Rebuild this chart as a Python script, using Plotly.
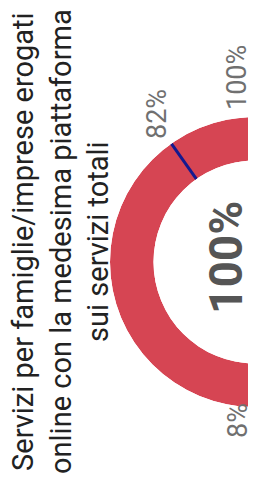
import plotly.graph_objects as go

# ---- data ----
title_lines = ["Servizi per famiglie/imprese erogati",
               "online con la medesima piattaforma",
               "sui servizi totali"]
gauge_min = 8
gauge_max = 100
value = 100
threshold = 82
tick_labels = ["8%", "82%", "100%"]
value_label = "100%"

W, H = 256, 484


def theta(v):
    # gauge scale: min at bottom, max at top, going through the left side
    return (v - gauge_min) / (gauge_max - gauge_min) * 180.0


def px(x, y):
    return x / W, 1 - y / H


fig = go.Figure()

# value arc
fig.add_trace(go.Barpolar(
    r=[1], base=[0],
    theta=[(theta(gauge_min) + theta(value)) / 2],
    width=[theta(value) - theta(gauge_min)],
    marker=dict(color="#d64553", line=dict(width=0)),
    hoverinfo="skip", showlegend=False,
))
# threshold marker
fig.add_trace(go.Scatterpolar(
    r=[0, 1], theta=[theta(threshold), theta(threshold)],
    mode="lines", line=dict(color="#14198f", width=3),
    hoverinfo="skip", showlegend=False,
))

R = 145
x0, y0 = px(247 - R, 254 - R)
x1, y1 = px(247, 254 + R)
fig.update_layout(
    width=W, height=H,
    margin=dict(l=0, r=0, t=0, b=0),
    paper_bgcolor="white",
    polar=dict(
        domain=dict(x=[x0, x1], y=[y1, y0]),
        sector=[90, 270],
        hole=0.70,
        bgcolor="rgba(0,0,0,0)",
        angularaxis=dict(visible=False, rotation=270, direction="clockwise"),
        radialaxis=dict(visible=False, range=[0, 1]),
    ),
)

ann = []
tx, ty = px(52, 234)
ann.append(dict(text="<br>".join(title_lines), x=tx, y=ty, xref="paper", yref="paper",
                xanchor="center", yanchor="middle", textangle=-90, showarrow=False,
                font=dict(family="Roboto", size=29, color="#222222")))
label_pos = [(230, 413), (149, 106), (229, 70)]
for lab, (lx, ly) in zip(tick_labels, label_pos):
    ax, ay = px(lx, ly)
    ann.append(dict(text=lab, x=ax, y=ay, xref="paper", yref="paper",
                    xanchor="center", yanchor="middle", textangle=-90, showarrow=False,
                    font=dict(family="Roboto", size=27, color="#707070")))
cx, cy = px(218, 250)
ann.append(dict(text="<b>" + value_label + "</b>", x=cx, y=cy, xref="paper", yref="paper",
                xanchor="center", yanchor="middle", textangle=-90, showarrow=False,
                font=dict(family="Roboto", size=46, color="#555555")))
fig.update_layout(annotations=ann)

fig.write_html("out.html")
